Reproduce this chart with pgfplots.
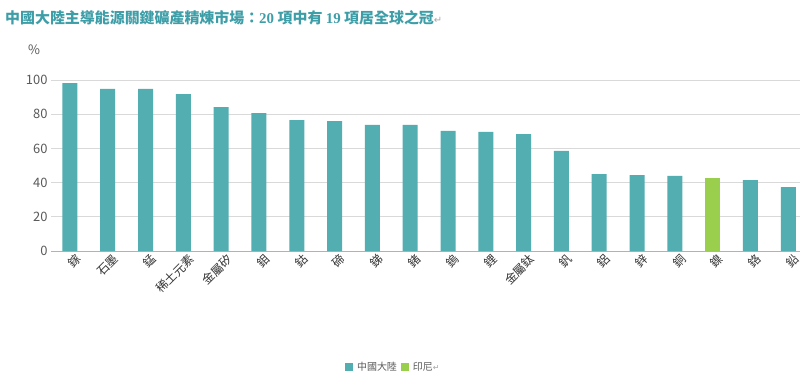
\documentclass[border=0pt]{standalone}
\usepackage{fontspec}
\setmainfont{Noto Sans CJK TC}
\newfontfamily\titlenum{Liberation Serif}
\newfontfamily\dejavu{DejaVu Sans}
\usepackage{pgfplots}
\pgfplotsset{compat=1.18}
\definecolor{teal1}{HTML}{52AEB1}
\definecolor{green1}{HTML}{9ACF4E}
\definecolor{titlec}{HTML}{3E9EA8}
\definecolor{gridc}{HTML}{D9D9D9}
\definecolor{labc}{HTML}{595959}
\begin{document}
\begin{tikzpicture}
\useasboundingbox (0bp,0bp) rectangle (800bp,384bp);
\node[anchor=west, text=titlec, font=\fontsize{15}{18}\selectfont\bfseries, inner sep=0pt] at (5bp,366bp)
  {中國大陸主導能源關鍵礦產精煉市場：{\titlenum\bfseries 20} 項中有 {\titlenum\bfseries 19} 項居全球之冠{\dejavu\mdseries\color{gray!70}\fontsize{10}{12}\selectfont ↵}};
\node[anchor=center, text=labc, font=\fontsize{13}{15}\selectfont, inner sep=0pt] at (34bp,334bp) {\%};
\begin{axis}[
  at={(51bp,133bp)}, anchor=south west,
  scale only axis, width=749bp, height=171bp,
  xmin=-0.5, xmax=19.31, ymin=0, ymax=100,
  ytick={0,20,40,60,80,100},
  xtick={0,...,19},
  xticklabels={鎵,石墨,錳,稀土元素,金屬矽,鉬,鈷,碲,銻,鍺,鎢,鋰,金屬鈦,釩,鋁,鋅,銅,鎳,鉻,鉛},
  xticklabel style={rotate=45, anchor=north east, font=\fontsize{12}{14}\selectfont, text=black!80, inner sep=0.5pt, xshift=2.5bp, yshift=-4bp},
  yticklabel style={font=\fontsize{13}{15}\selectfont, text=labc},
  /pgf/number format/assume math mode=true,
  ymajorgrids, grid style={gridc, line width=0.8pt},
  axis line style={draw=none},
  extra y ticks={0}, extra y tick style={grid style={gray!60, line width=0.8pt}},
  extra y tick labels={},
  major tick length=0pt,
  ybar, bar width=15bp, bar shift=0pt,
  legend style={at={(0.457,-0.678)}, anchor=center, legend columns=2, draw=none,
    font=\fontsize{10}{12}\selectfont, text=labc, column sep=2bp},
  legend image code/.code={\fill[#1] (0bp,-4bp) rectangle (8bp,4bp);},
  clip=false,
]
\addplot[fill=teal1, draw=none] coordinates {
(0,98.2) (1,94.8) (2,94.8) (3,91.8) (4,84.2) (5,80.7) (6,76.6) (7,76.0) (8,73.7) (9,73.7)
(10,70.2) (11,69.6) (12,68.4) (13,58.5) (14,45.0) (15,44.4) (16,43.9) (18,41.5) (19,37.4)};
\addlegendentry{中國大陸}
\addplot[fill=green1, draw=none] coordinates {(17,42.7)};
\addlegendentry{印尼{\dejavu\color{gray!70}\fontsize{8}{10}\selectfont ↵}}
\end{axis}
\end{tikzpicture}
\end{document}
